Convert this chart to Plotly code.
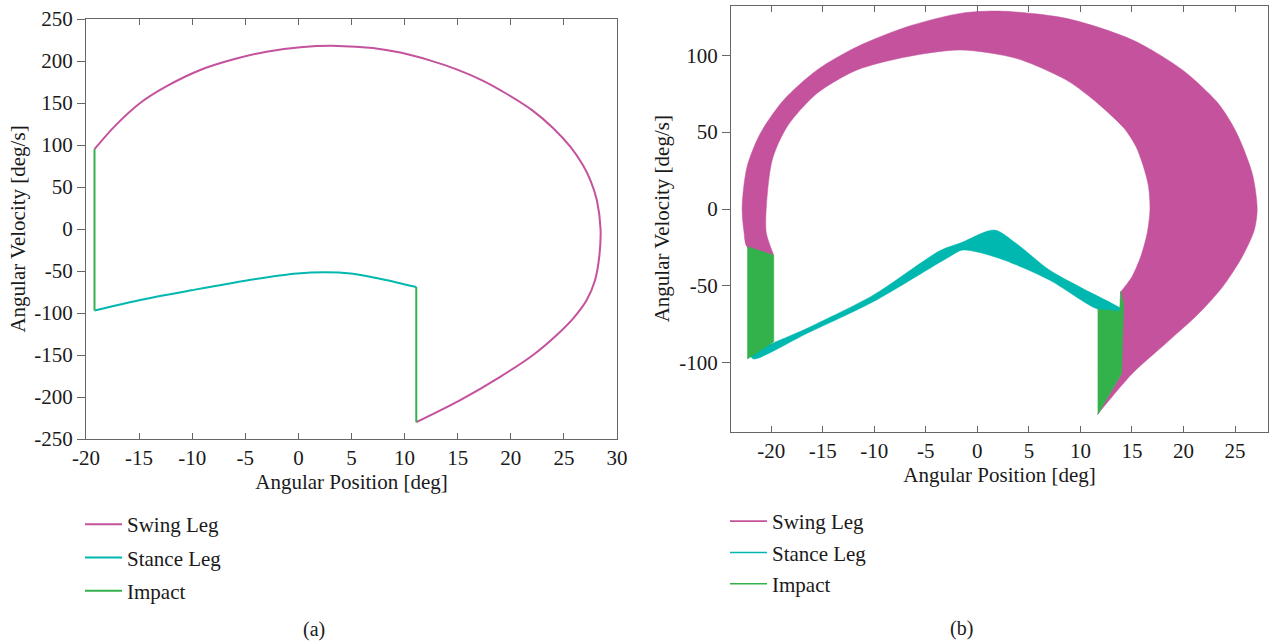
import plotly.graph_objects as go

# ---------------- (a) single limit cycle ----------------
swing_a_x = [-19.2, -17.4, -14.9, -12.4, -9.3, -6.1, -3.0, 0.2, 3.7, 7.0, 9.6, 12.3,
             14.9, 17.3, 19.6, 22.0, 24.0, 25.6, 26.8, 27.5, 28.1, 28.45, 28.33, 27.93,
             27.15, 25.9, 24.3, 22.1, 19.0, 15.2, 11.1]
swing_a_y = [95, 121, 150, 170, 189, 202, 211, 216.5, 218, 215.5, 210, 201,
             190, 177, 161, 141.5, 120, 98, 76, 58, 34.5, 0, -33, -61,
             -84.5, -106, -126.5, -150, -176, -204, -230]

stance_a_x = [-19.2, -15.1, -10.1, -5.0, -0.1, 2.5, 4.9, 8.0, 11.1]
stance_a_y = [-97, -85, -73, -61.5, -53, -51.5, -53, -60, -69]

impact_a_x = [-19.2, -19.2, None, 11.1, 11.1]
impact_a_y = [95, -97, None, -69, -230]

# ---------------- (b) many cycles (bands) ----------------
# swing band: outer edge going clockwise, then inner edge back
swing_b_x = [-22.3, -22.66, -22.82, -22.34, -21.05, -18.79, -15.55, -11.67, -6.82, -1.65,
             2.13, 8.6, 15.07, 19.9, 23.2, 24.5, 25.4, 26.7, 27.15, 26.87, 25.7, 23.8, 21.5,
             18.3, 15.06, 11.67, 11.67,
             14.0, 14.0, 13.9, 13.9, 15.0, 15.9, 16.5, 16.75, 16.6, 16.1, 15.4, 14.3,
             12.8, 10.9, 8.6, 3.75, -1.65, -6.82, -11.67, -15.55, -18.46, -19.9,
             -20.47, -20.47, -19.75, -19.75, -22.3]
swing_b_y = [-25, -13.7, 1.5, 27.5, 49.2, 70.9, 90.4, 105.5, 118.5, 127.2,
             128.7, 124, 109.9, 90.4, 70, 57.5, 46, 22.5, 0, -13.7, -31, -50.5, -67.8,
             -87.3, -106.8, -133.5, -133.5,
             -107, -107, -54, -54, -44, -30, -15, 0, 15, 28, 40.5, 52,
             62, 73, 84, 98, 103.4, 99, 90.4, 75.2, 53.5, 31.9,
             1.5, -15.8, -30, -30, -25]

stance_b_x = [-22.0, -16.5, -10.1, -3.6, -1.6, 1.65, 3.75, 7.0, 10.2, 14.1,
              14.1, 11.7, 7.0, 2.1, -1.4, -2.7, -10.1, -16.5, -21.7, -22.0]
stance_b_y = [-95, -77.5, -56, -27, -22, -13.7, -22.3, -39.7, -51.6, -65.7,
              -67, -65.2, -46.2, -32, -26.7, -31, -60.3, -80.8, -97.5, -95]

impact_b_x = [-22.3, -19.75, -19.75, -22.3, -22.3, None,
              11.7, 13.8, 13.9, 14.2, 14.0, 11.7, 11.7]
impact_b_y = [-24.5, -30, -86.3, -97.5, -24.5, None,
              -65.2, -66.5, -53.5, -62, -107, -133.5, -65.2]

series_names = ["Swing Leg", "Stance Leg", "Impact"]
colors = ["#C4529C", "#00B8AF", "#33B24C"]

xticks_a = list(range(-20, 31, 5))
yticks_a = list(range(-250, 251, 50))
xticks_b = list(range(-20, 26, 5))
yticks_b = [-100, -50, 0, 50, 100]

FONT = "Liberation Serif"
TXT = "#1a1a1a"
AX = "#666666"


def labels(vals):
    # plain hyphen for negative numbers
    return [str(v) for v in vals]


fig = go.Figure()

# (a) traces
shapes_a = ["spline", "spline", "linear"]
for name, xs, ys, c, sh in zip(series_names,
                               [swing_a_x, stance_a_x, impact_a_x],
                               [swing_a_y, stance_a_y, impact_a_y], colors, shapes_a):
    fig.add_trace(go.Scatter(x=xs, y=ys, mode="lines", name=name,
                             line=dict(color=c, width=2, shape=sh, smoothing=0.75),
                             legend="legend", legendgroup="a" + name,
                             xaxis="x", yaxis="y"))

# (b) bands
shapes_b = ["spline", "spline", "linear"]
for name, xs, ys, c, sh in zip(series_names,
                               [swing_b_x, stance_b_x, impact_b_x],
                               [swing_b_y, stance_b_y, impact_b_y], colors, shapes_b):
    fig.add_trace(go.Scatter(x=xs, y=ys, mode="lines", fill="toself", fillcolor=c,
                             line=dict(color=c, width=0.5, shape=sh, smoothing=0.8),
                             showlegend=False, xaxis="x2", yaxis="y2"))
# (b) legend entries
for name, c in zip(series_names, colors):
    fig.add_trace(go.Scatter(x=[None], y=[None], mode="lines", name=name,
                             line=dict(color=c, width=1.6), legend="legend2",
                             legendgroup="b" + name, xaxis="x2", yaxis="y2"))

W, H = 1269, 644


def px(xp):
    return xp / W


def py(yp):
    return 1 - yp / H


FS = 21
tickfont = dict(family=FONT, size=FS, color=TXT)
titlefont = dict(family=FONT, size=FS, color=TXT)

common_x = dict(showgrid=False, zeroline=False, showline=True, linecolor=AX, linewidth=1.3,
                ticks="inside", ticklen=6, tickcolor=AX, mirror="ticks", automargin=False,
                tickfont=tickfont, title_font=titlefont)
common_y = dict(showgrid=False, zeroline=False, showline=True, linecolor=AX, linewidth=1.3,
                ticks="outside", ticklen=8, tickcolor=AX, mirror=True, automargin=False,
                tickfont=tickfont, title_font=titlefont)
right_ticks = dict(side="right", ticks="inside", ticklen=6, tickcolor=AX,
                   showticklabels=False, showgrid=False, zeroline=False,
                   showline=False, automargin=False)

legend_style = dict(font=dict(family=FONT, size=21, color=TXT), bgcolor="rgba(0,0,0,0)",
                    xanchor="left", yanchor="top", traceorder="grouped",
                    itemwidth=37)

label_font = dict(family=FONT, size=20, color=TXT)

fig.update_layout(
    width=W, height=H, margin=dict(l=0, r=0, t=0, b=0, autoexpand=False),
    paper_bgcolor="white", plot_bgcolor="white",
    xaxis=dict(common_x, domain=[px(86), px(617)], range=[-20, 30],
               tickvals=xticks_a, ticktext=labels(xticks_a), anchor="y",
               title=dict(text="Angular Position [deg]", standoff=1)),
    yaxis=dict(common_y, domain=[py(439), py(19)], range=[-250, 250],
               tickvals=yticks_a, ticktext=labels(yticks_a), anchor="x",
               title=dict(text="Angular Velocity [deg/s]", standoff=2)),
    yaxis3=dict(right_ticks, overlaying="y", anchor="x", range=[-250, 250],
                tickvals=yticks_a),
    xaxis2=dict(common_x, domain=[px(731), px(1268)], range=[-23.9, 28.2],
                tickvals=xticks_b, ticktext=labels(xticks_b), anchor="y2",
                title=dict(text="Angular Position [deg]", standoff=4)),
    yaxis2=dict(common_y, domain=[py(431.7), py(5.7)], range=[-144.8, 132.2],
                tickvals=yticks_b, ticktext=labels(yticks_b), anchor="x2",
                title=dict(text="Angular Velocity [deg/s]", standoff=3)),
    yaxis4=dict(right_ticks, overlaying="y2", anchor="x2", range=[-144.8, 132.2],
                tickvals=yticks_b),
    legend=dict(legend_style, x=px(80), y=py(504), tracegroupgap=3),
    legend2=dict(legend_style, x=px(725), y=py(501), tracegroupgap=1),
    showlegend=True,
    annotations=[
        dict(text="(a)", x=px(314), y=py(629), xref="paper", yref="paper",
             xanchor="center", yanchor="middle", showarrow=False, font=label_font),
        dict(text="(b)", x=px(961), y=py(628), xref="paper", yref="paper",
             xanchor="center", yanchor="middle", showarrow=False, font=label_font),
    ],
)

fig.write_html("out.html")
